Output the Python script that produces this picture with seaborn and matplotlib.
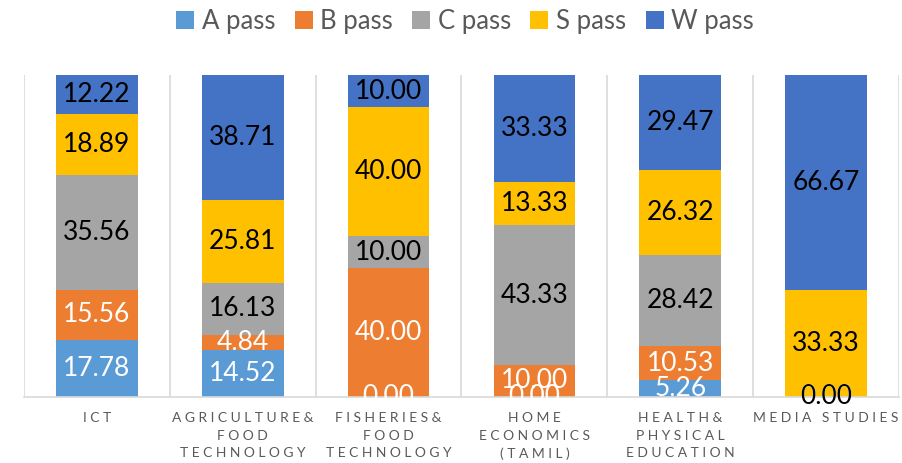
import numpy as np
import pandas as pd
import matplotlib
matplotlib.use("Agg")
import matplotlib.pyplot as plt
import seaborn as sns
from matplotlib.patches import Patch

sns.set_style("white")
plt.rcParams['font.family'] = ['Lato', 'DejaVu Sans']

# data (percent of students per grade)
subjects = ["ICT", "AGRICULTURE&\nFOOD\nTECHNOLOGY", "FISHERIES&\nFOOD\nTECHNOLOGY",
            "HOME\nECONOMICS\n(TAMIL)", "HEALTH&\nPHYSICAL\nEDUCATION", "MEDIA STUDIES"]
series = ["A pass", "B pass", "C pass", "S pass", "W pass"]
a_pass = [17.78, 14.52, 0.00, 0.00, 5.26, 0.00]
b_pass = [15.56, 4.84, 40.00, 10.00, 10.53, 0.00]
c_pass = [35.56, 16.13, 10.00, 43.33, 28.42, 0.00]
s_pass = [18.89, 25.81, 40.00, 13.33, 26.32, 33.33]
w_pass = [12.22, 38.71, 10.00, 33.33, 29.47, 66.67]

colors = ["#5B9BD5", "#ED7D31", "#A5A5A5", "#FFC000", "#4472C4"]
label_colors = ["white", "white", "black", "black", "black"]


def spaced(txt):
    # imitate the wide letter spacing of the axis labels
    return "\n".join(" ".join(line) for line in txt.split("\n"))


df = pd.DataFrame({"subject": subjects, "A pass": a_pass, "B pass": b_pass,
                   "C pass": c_pass, "S pass": s_pass, "W pass": w_pass})

fig = plt.figure(figsize=(9.03, 4.63), dpi=100)
ax = fig.add_axes([24 / 903, 1 - 397 / 463, 875 / 903, 322 / 463])

bottom = np.zeros(len(subjects))
for name, col, lc in zip(series, colors, label_colors):
    sns.barplot(data=df, x="subject", y=name, bottom=bottom, color=col, saturation=1,
                width=0.56, errorbar=None, ax=ax, linewidth=0)
    cont = ax.containers[-1]
    ax.bar_label(cont, labels=[f"{v:.2f}" for v in df[name]], label_type="center",
                 color=lc, fontsize=19)
    bottom = bottom + df[name].values

ax.set_ylim(0, 100)
ax.set_xlim(-0.5, len(subjects) - 0.5)
ax.set_yticks([])
ax.set_xlabel("")
ax.set_ylabel("")
ax.set_xticks(range(len(subjects)))
ax.set_xticklabels([spaced(s) for s in subjects], fontsize=10, color="#595959",
                   linespacing=1.55)
ax.tick_params(axis="x", length=0, pad=11)
for x in np.arange(-0.5, len(subjects), 1.0):
    ax.axvline(x, color="#D9D9D9", lw=1.2, zorder=0)
for side in ["left", "right", "top"]:
    ax.spines[side].set_visible(False)
ax.spines["bottom"].set_color("#D9D9D9")
ax.spines["bottom"].set_linewidth(1.2)

handles = [Patch(facecolor=c, edgecolor="none") for c in colors]
fig.legend(handles, series, loc="center", bbox_to_anchor=(0.515, 0.953), ncol=5,
           frameon=False, fontsize=18.5, labelcolor="#595959", handlelength=0.7,
           handleheight=0.7, handletextpad=0.3, columnspacing=0.75)

fig.savefig("out.png", dpi=100)
